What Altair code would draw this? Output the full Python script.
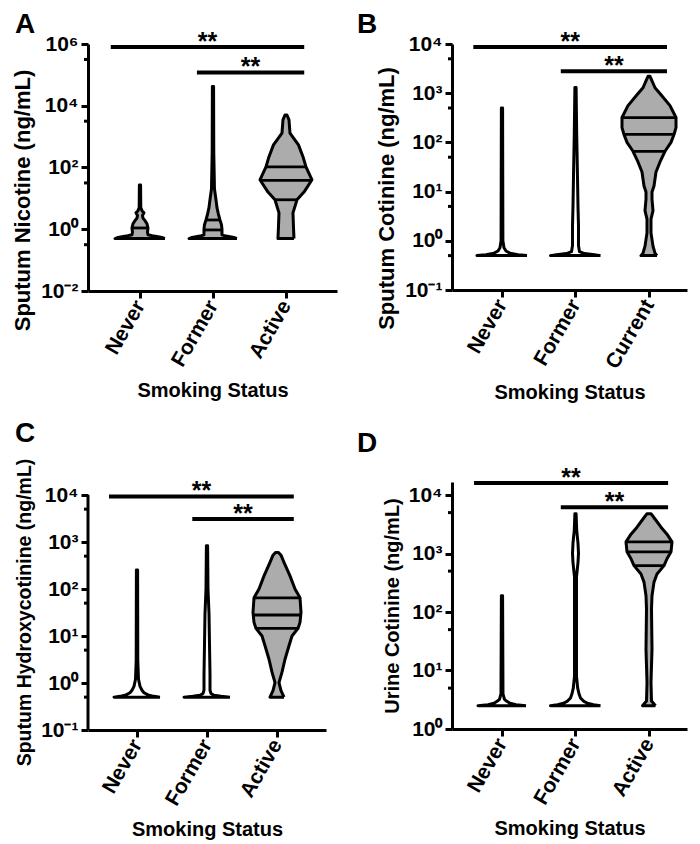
import altair as alt
import numpy as np
import pandas as pd

FONT = "Liberation Sans, Arial, Helvetica, sans-serif"

# ---------------- data ----------------
GROUPS_A = ["Never", "Former", "Active"]
GROUPS_B = ["Never", "Former", "Current"]
GROUPS_C = ["Never", "Former", "Active"]
GROUPS_D = ["Never", "Former", "Active"]

# Violin profiles: concentration (ng/mL) and half-width of the density outline
# Panel A – Sputum Nicotine
A_NEVER_V = [0.5, 0.54, 0.6, 0.66, 0.8, 1.1, 1.5, 1.9, 2.3, 2.8, 3.4, 4.0, 5, 27]
A_NEVER_W = [25, 22, 14, 8, 7.5, 8, 7, 5, 3, 2.5, 4, 2, 0.8, 0.6]
A_NEVER_Q = [1.1]
A_FORMER_V = [0.5, 0.54, 0.6, 0.66, 1.0, 1.4, 2.0, 3.0, 5.0, 9, 20, 300, 42000]
A_FORMER_W = [24, 21, 13, 9, 9, 8.5, 7, 5.5, 4, 3, 1.5, 0.8, 0.6]
A_FORMER_Q = [0.95, 2.0]
A_ACTIVE_V = [0.5, 1.2, 3.4, 9, 16, 40, 105, 224, 540, 1300, 3500, 5000]
A_ACTIVE_W = [8, 7.5, 7, 11, 18, 26, 20, 17, 12.5, 4, 3, 1]
A_ACTIVE_Q = [9, 38, 105]

# Panel B – Sputum Cotinine
B_NEVER_V = [0.5, 0.52, 0.56, 0.62, 0.72, 1.0, 500]
B_NEVER_W = [25, 16, 8, 4, 2, 0.9, 0.6]
B_NEVER_Q = []
B_FORMER_V = [0.5, 0.52, 0.55, 0.6, 0.8, 2, 5, 20, 150, 1300]
B_FORMER_W = [25, 19, 9, 4, 3, 3, 2.5, 2, 1.2, 0.6]
B_FORMER_Q = []
B_CURRENT_V = [0.5, 0.56, 0.78, 1.45, 2.75, 4.1, 7, 9.8, 13, 25, 40, 66, 100,
               145, 200, 320, 560, 930, 1290, 1780, 2200]
B_CURRENT_W = [8, 6, 4, 2, 2, 4, 3, 3, 5, 7, 11, 16, 22, 25, 27, 27, 21, 12, 6, 3, 1]
B_CURRENT_Q = [66, 145, 320]

# Panel C – Sputum Hydroxycotinine
C_NEVER_V = [0.5, 0.52, 0.56, 0.62, 0.7, 0.85, 1.2, 3, 255]
C_NEVER_W = [23, 17, 11, 7, 5, 3, 1.5, 0.8, 0.6]
C_NEVER_Q = []
C_FORMER_V = [0.5, 0.52, 0.55, 0.6, 0.7, 1.5, 30, 100, 830]
C_FORMER_W = [23, 14, 7, 4, 3, 3, 2, 1, 0.6]
C_FORMER_Q = []
C_ACTIVE_V = [0.5, 0.69, 1.02, 1.7, 3.2, 6.2, 10, 14.5, 19.5, 32, 65, 100, 190, 370, 525, 600]
C_ACTIVE_W = [7, 4, 2, 5, 8, 12, 15, 21, 23, 24, 23, 18, 13, 7, 4, 1.5]
C_ACTIVE_Q = [14.5, 28, 65]

# Panel D – Urine Cotinine
D_NEVER_V = [2.5, 2.6, 2.75, 3.0, 3.2, 4, 190]
D_NEVER_W = [24, 14, 8, 4.5, 2.5, 1, 0.6]
D_NEVER_Q = []
D_FORMER_V = [2.5, 2.6, 2.75, 3.0, 3.4, 4, 5, 8, 400, 700, 1000, 1500, 2500, 4800]
D_FORMER_W = [25, 18, 12, 8, 5, 3.5, 2.2, 1, 1, 2.5, 3, 2.5, 1.2, 0.6]
D_FORMER_Q = []
D_ACTIVE_V = [2.5, 3.0, 6.3, 23, 112, 190, 324, 447, 620, 813, 1070, 1580, 2140, 2820, 3890, 4800]
D_ACTIVE_W = [6.5, 2.5, 2, 3, 2.5, 3, 5, 8, 15, 18, 22, 23, 18, 12, 6, 2]
D_ACTIVE_Q = [620, 1070, 1580]

# Significance brackets: start group position, end group position, height (ng/mL)
A_SIG_X1 = [-0.40, 0.78]
A_SIG_X2 = [2.25, 2.25]
A_SIG_Y = [8e5, 1.2e5]
B_SIG_X1 = [-0.39, 0.80]
B_SIG_X2 = [2.245, 2.245]
B_SIG_Y = [8700, 2800]
C_SIG_X1 = [-0.40, 0.79]
C_SIG_X2 = [2.24, 2.24]
C_SIG_Y = [9300, 3100]
D_SIG_X1 = [-0.38, 0.80]
D_SIG_X2 = [2.26, 2.26]
D_SIG_Y = [16000, 6200]
SIG_LABEL = "**"

# Axis ticks (decade exponents with labels, unlabeled minor tick values)
A_MAJOR = [6, 4, 2, 0, -2]
A_MINOR = [10 ** 5.5, 10 ** 3.5, 10 ** 1.5, 10 ** -0.5]
B_MAJOR = [4, 3, 2, 1, 0, -1]
B_MINOR = [5000, 500, 50, 5, 0.5]
C_MAJOR = [4, 3, 2, 1, 0, -1]
C_MINOR = [5000, 500, 50, 5, 0.5]
D_MAJOR = [4, 3, 2, 1, 0]
D_MINOR = [5000, 500, 50, 5]

SUP = {"0": "⁰", "1": "¹", "2": "²", "3": "³", "4": "⁴", "5": "⁵",
       "6": "⁶", "7": "⁷", "8": "⁸", "9": "⁹", "-": "⁻"}


def sup(e):
    return "".join(SUP[c] for c in str(e))


def y_label_expr(majors):
    parts = [f"abs(log(datum.value)/LN10 - ({e})) < 0.01 ? '10{sup(e)}' : " for e in majors]
    return "".join(parts) + "''"


def x_label_expr(groups):
    return (f"datum.value == 0 ? '{groups[0]}' : datum.value == 1 ? '{groups[1]}' : '{groups[2]}'")


def panel(letter, groups, violins, sig, ytitle, ytitle_size, ydomain, majors, minors,
          width, height, xdomain, ppu, fills, letter_pos, title_y=None, domain_top=None):
    area_rows, line_rows, q_rows = [], [], []
    for g, (V, W, Q) in enumerate(violins):
        V = np.array(V, float)
        W = np.array(W, float) / ppu
        for v, w in zip(V, W):
            area_rows.append(dict(g=g, v=v, lo=g - w, hi=g + w, fill=fills[g]))
        pts = ([(g + w, v) for v, w in zip(V, W)]
               + [(g - w, v) for v, w in zip(V[::-1], W[::-1])]
               + [(g + W[0], V[0])])
        for o, (x, v) in enumerate(pts):
            line_rows.append(dict(g=g, o=o, x=x, v=v))
        for q in Q:
            w = float(np.interp(np.log10(q), np.log10(V), W))
            q_rows.append(dict(g=g, v=q, lo=g - w, hi=g + w))
    df_area = pd.DataFrame(area_rows)
    df_line = pd.DataFrame(line_rows)
    df_q = pd.DataFrame(q_rows)
    x1, x2, ys = sig
    df_sig = pd.DataFrame(dict(x1=x1, x2=x2, y=ys,
                               xm=[(a + b) / 2 for a, b in zip(x1, x2)],
                               t=[SIG_LABEL] * len(ys)))
    df_minor = pd.DataFrame(dict(v=minors))

    yaxis_kw = dict(values=[10.0 ** e for e in majors], labelExpr=y_label_expr(majors),
                    title=ytitle, titleFontSize=ytitle_size, titleFontWeight="bold",
                    labelFontSize=21, labelFontWeight="bold", labelPadding=3,
                    titlePadding=6, tickSize=7, tickWidth=3, domainWidth=3,
                    grid=False, labelOverlap=False, labelFlush=False)
    if title_y is not None:
        yaxis_kw["titleY"] = title_y
    if domain_top is not None:
        yaxis_kw["domain"] = False
    yaxis = alt.Axis(**yaxis_kw)
    yscale = alt.Scale(type="log", domain=ydomain, nice=False)

    xaxis = alt.Axis(values=[0, 1, 2], labelExpr=x_label_expr(groups), labelAngle=300,
                     labelAlign="right", labelBaseline="middle", labelFontSize=21,
                     labelFontWeight="bold", labelPadding=4, title="Smoking Status",
                     titleFontSize=20, titleFontWeight="bold", titlePadding=11,
                     tickSize=7, tickWidth=3, domainWidth=3, grid=False,
                     labelOverlap=False, labelFlush=False)
    xscale = alt.Scale(domain=xdomain, nice=False, zero=False)

    def Y(f):
        return alt.Y(f, type="quantitative", scale=yscale, axis=yaxis)

    def X(f, **kw):
        return alt.X(f, type="quantitative", scale=xscale, axis=xaxis, **kw)

    area = alt.Chart(df_area).mark_area(orient="horizontal", opacity=1).encode(
        y=Y("v"), x=X("lo", stack=None), x2="hi", detail="g:N",
        color=alt.Color("fill:N", scale=None))
    outline = alt.Chart(df_line).mark_line(color="black", strokeWidth=3,
                                           strokeJoin="round").encode(
        x=X("x"), y=Y("v"), order="o:Q", detail="g:N")
    quart = alt.Chart(df_q).mark_rule(color="black", strokeWidth=2.8).encode(
        y=Y("v"), x=X("lo"), x2="hi")
    bars = alt.Chart(df_sig).mark_rule(color="black", strokeWidth=4).encode(
        x=X("x1"), x2="x2", y=Y("y"))
    stars = alt.Chart(df_sig).mark_text(fontSize=25, fontWeight="bold", font=FONT,
                                        baseline="alphabetic", dy=3, color="black").encode(
        x=X("xm"), y=Y("y"), text="t:N")
    minor = alt.Chart(df_minor).mark_rule(color="black", strokeWidth=3).encode(
        y=Y("v"), x=alt.value(-4), x2=alt.value(0))
    lab = alt.Chart(pd.DataFrame(dict(t=[letter]))).mark_text(
        fontSize=28, fontWeight="bold", font=FONT, align="left", baseline="top",
        color="black").encode(text="t:N", x=alt.value(letter_pos[0]), y=alt.value(letter_pos[1]))
    layers = [area, outline, quart, bars, stars, minor, lab]
    if domain_top is not None:
        dom = alt.Chart(pd.DataFrame(dict(lo=[ydomain[0]], hi=[domain_top]))).mark_rule(
            color="black", strokeWidth=3).encode(x=alt.value(0), y=Y("lo"), y2="hi")
        layers.append(dom)
    return alt.layer(*layers).properties(width=width, height=height)


GRAY = "#acacac"
WHITE = "#ffffff"

pA = panel("A", GROUPS_A,
           [(A_NEVER_V, A_NEVER_W, A_NEVER_Q), (A_FORMER_V, A_FORMER_W, A_FORMER_Q),
            (A_ACTIVE_V, A_ACTIVE_W, A_ACTIVE_Q)],
           (A_SIG_X1, A_SIG_X2, A_SIG_Y), "Sputum Nicotine (ng/mL)", 22,
           [1e-2, 1e6], A_MAJOR, A_MINOR, 249, 247, [-0.712, 2.699], 73.0,
           [GRAY, GRAY, GRAY], (-73, -33), title_y=156)
pB = panel("B", GROUPS_B,
           [(B_NEVER_V, B_NEVER_W, B_NEVER_Q), (B_FORMER_V, B_FORMER_W, B_FORMER_Q),
            (B_CURRENT_V, B_CURRENT_W, B_CURRENT_Q)],
           (B_SIG_X1, B_SIG_X2, B_SIG_Y), "Sputum Cotinine (ng/mL)", 22,
           [1e-1, 1e4], B_MAJOR, B_MINOR, 235, 246, [-0.680, 2.517], 73.5,
           [WHITE, WHITE, GRAY], (-95, -33), title_y=154)
pC = panel("C", GROUPS_C,
           [(C_NEVER_V, C_NEVER_W, C_NEVER_Q), (C_FORMER_V, C_FORMER_W, C_FORMER_Q),
            (C_ACTIVE_V, C_ACTIVE_W, C_ACTIVE_Q)],
           (C_SIG_X1, C_SIG_X2, C_SIG_Y), "Sputum Hydroxycotinine (ng/mL)", 19.5,
           [1e-1, 10 ** (-1 + 248 / 47)], C_MAJOR, C_MINOR, 238, 248, [-0.70, 2.70], 70.0,
           [WHITE, WHITE, GRAY], (-73, -62), title_y=130, domain_top=1e4)
pD = panel("D", GROUPS_D,
           [(D_NEVER_V, D_NEVER_W, D_NEVER_Q), (D_FORMER_V, D_FORMER_W, D_FORMER_Q),
            (D_ACTIVE_V, D_ACTIVE_W, D_ACTIVE_Q)],
           (D_SIG_X1, D_SIG_X2, D_SIG_Y), "Urine Cotinine (ng/mL)", 20,
           [1, 10 ** (247 / 58.5)], D_MAJOR, D_MINOR, 235, 247, [-0.680, 2.517], 73.5,
           [WHITE, WHITE, GRAY], (-95, -52))

chart = alt.ConcatChart(concat=[pA, pB, pC, pD], columns=2,
                        spacing={"row": 191, "column": 115}, bounds="flush").properties(
    padding={"left": 3, "top": 3, "right": 5, "bottom": 0}
).configure_view(stroke=None).configure_axis(
    domainColor="black", tickColor="black", labelColor="black", titleColor="black",
    labelFont=FONT, titleFont=FONT)

chart.save("out.html", embed_options={"renderer": "svg", "actions": False})
